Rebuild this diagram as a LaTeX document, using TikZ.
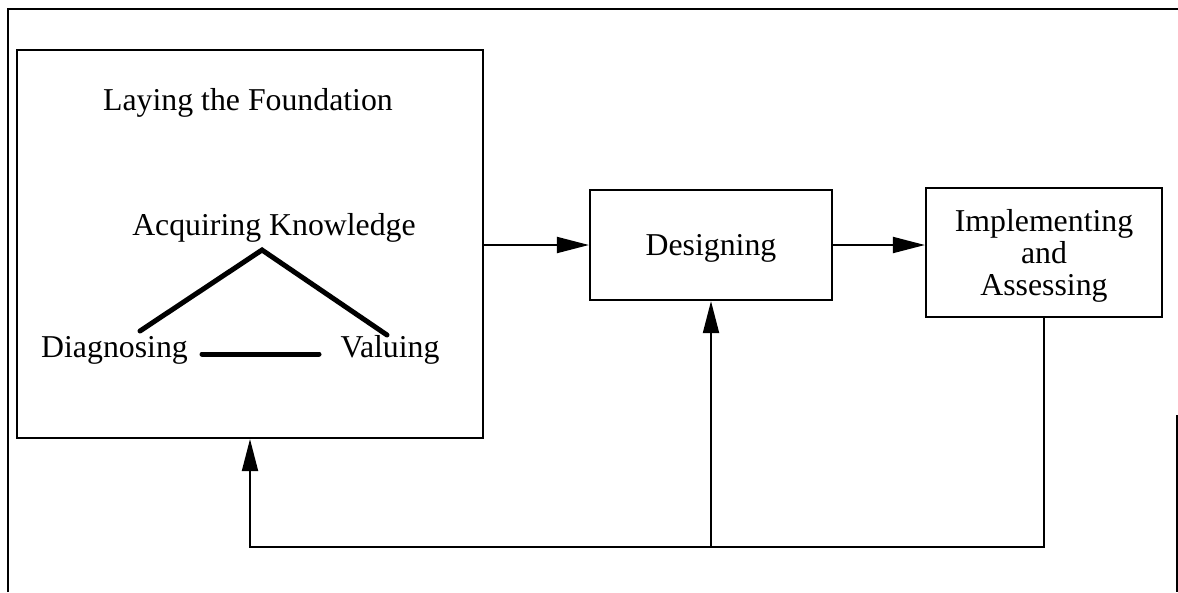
\documentclass[tikz,border=0pt]{standalone}
\usepackage{fontspec}
\setmainfont{Liberation Serif}
\usetikzlibrary{arrows.meta}
\begin{document}
\begin{tikzpicture}[x=1pt,y=-1pt,
  every node/.style={font=\fontsize{31.8}{32}\selectfont, inner sep=0pt},
  stagebox/.style={draw, line width=2.2pt},
  frame/.style={line width=2pt},
  conn/.style={line width=2pt},
  arr/.style={conn, -{Triangle[length=32pt,width=16pt]}},
  tie/.style={line width=5pt, line cap=round}]
\useasboundingbox (0,0) rectangle (1178,592);

% page frame
\draw[frame] (8,592) -- (8,8.5) -- (1178,8.5);
\draw[frame] (1177,415) -- (1177,592);

% stage 1: laying the foundation
\node[stagebox, minimum width=466pt, minimum height=388pt] (found) at (250,244) {};
\node[anchor=base] (foundtitle) at (248,110) {Laying the Foundation};
\node[anchor=base] (acq) at (274,235) {Acquiring Knowledge};
\node[anchor=base] (diag) at (114.5,357) {Diagnosing};
\node[anchor=base] (val) at (390,357) {Valuing};

\coordinate (apex) at (262,250);
\coordinate (diagtie) at (140,331);
\coordinate (valtie) at (387,335);
\coordinate (barL) at (202,354);
\coordinate (barR) at (319,354);
\draw[tie] (diagtie) -- (apex) -- (valtie);
\draw[tie] (barL) -- (barR);

% stages 2 and 3
\node[stagebox, minimum width=242pt, minimum height=110pt, text depth=0pt] (design) at (711,245) {Designing};
\node[stagebox, minimum width=236pt, minimum height=129pt, text depth=0pt, align=center] (impl) at (1044,252.5) {Implementing\\and\\Assessing};

% forward flow
\draw[arr] (found.east |- design.west) -- (design.west);
\draw[arr] (design.east) -- (design.east -| impl.west);

% feedback bus
\coordinate (bus) at (0,547);
\draw[arr] (impl.south) -- (impl.south |- bus) -- (found.south |- bus) -- (found.south);
\draw[arr] (design.south |- bus) -- (design.south);
\end{tikzpicture}
\end{document}
